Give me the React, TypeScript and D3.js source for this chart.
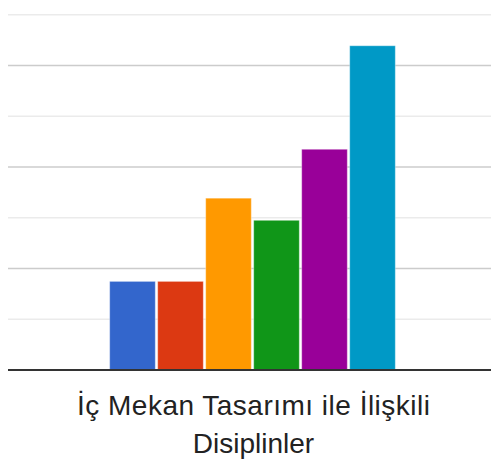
import React from "react";
import * as d3 from "d3";

const categoryLines = ["İç Mekan Tasarımı ile İlişkili", "Disiplinler"];
const seriesNames = ["S1", "S2", "S3", "S4", "S5", "S6"];
const seriesValues = [1.746, 1.746, 3.386, 2.95, 4.35, 6.39];
const seriesColors = ["#3366cc", "#dc3912", "#ff9900", "#109618", "#990099", "#0099c6"];
const gridTicks = [1, 2, 3, 4, 5, 6, 7];

const W = 491;
const H = 462;

export default function App() {
  const y = d3.scaleLinear().domain([0, 7]).range([370, 14.8]);
  const x0 = d3
    .scaleBand<string>()
    .domain(["c"])
    .range([14, 491])
    .paddingOuter(0.335)
    .paddingInner(0);
  const x1 = d3
    .scaleBand<string>()
    .domain(seriesNames)
    .range([x0("c")!, x0("c")! + x0.bandwidth()])
    .paddingInner(0.05)
    .paddingOuter(0);
  const cx = x0("c")! + x0.bandwidth() / 2 + 1;

  return (
    <svg
      width={W}
      height={H}
      style={{ position: "absolute", left: 0, top: 0, background: "#fff" }}
    >
      {gridTicks.map((t) => (
        <line
          key={t}
          x1={8}
          x2={491}
          y1={y(t)}
          y2={y(t)}
          stroke={t % 2 === 0 ? "#cccccc" : "#ebebeb"}
          strokeWidth={t % 2 === 0 ? 1.6 : 1.4}
        />
      ))}
      {seriesNames.map((s, i) => (
        <rect
          key={s}
          x={x1(s)!}
          y={y(seriesValues[i])}
          width={x1.bandwidth()}
          height={y(0) - y(seriesValues[i])}
          fill={seriesColors[i]}
          stroke="#ffffff"
          strokeOpacity={0.35}
          strokeWidth={1}
        />
      ))}
      <line x1={8} x2={491} y1={y(0)} y2={y(0)} stroke="#333333" strokeWidth={2} />
      {categoryLines.map((l, i) => (
        <text
          key={i}
          x={cx}
          y={415 + i * 38}
          textAnchor="middle"
          fontFamily="'Liberation Sans', Arial, sans-serif"
          fontSize={28}
          fill="#222222"
          {...(i === 0 ? { textLength: 353, lengthAdjust: "spacing" } : {})}
        >
          {l}
        </text>
      ))}
    </svg>
  );
}
